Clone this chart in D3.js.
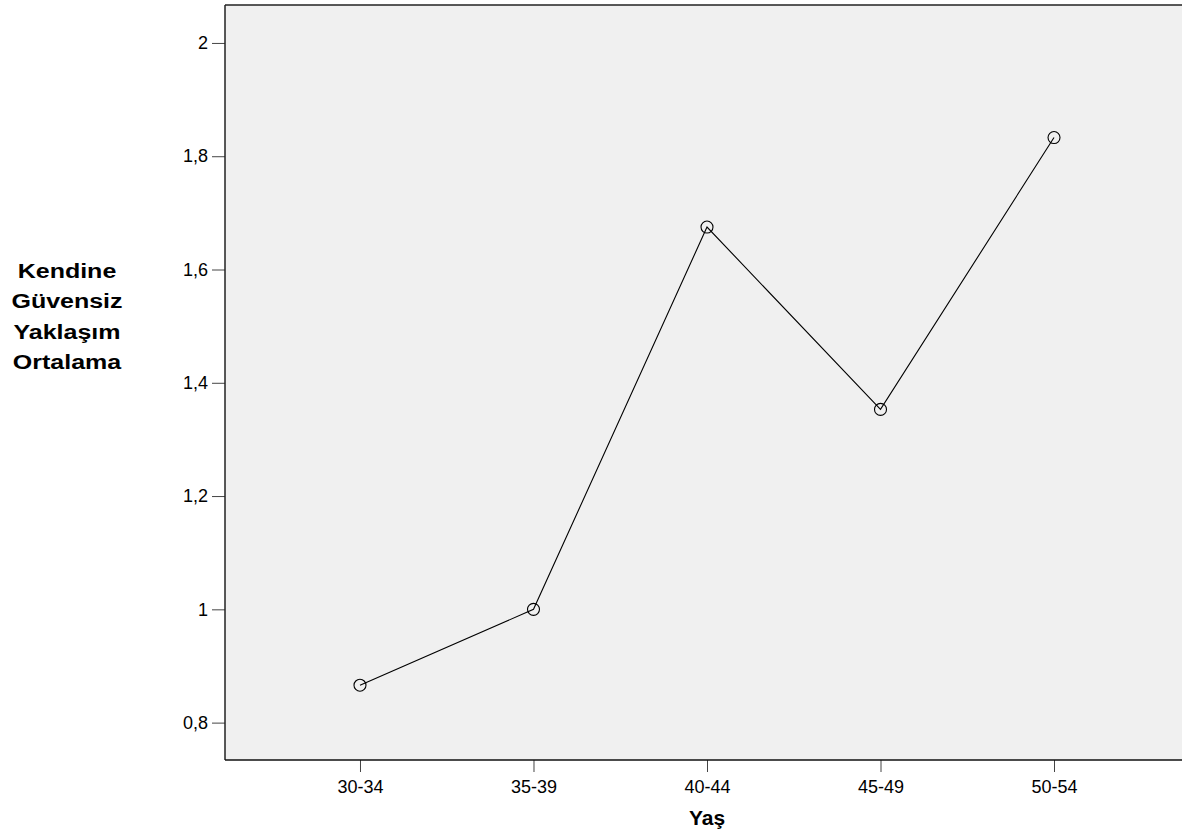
<!DOCTYPE html>
<html><head><meta charset="utf-8">
<script src="https://cdn.jsdelivr.net/npm/d3@7"></script>
<style>body{margin:0;background:#fff}svg{display:block}</style>
</head><body>
<svg id="c" width="1182" height="840"></svg>
<script>
const categories = ["30-34","35-39","40-44","45-49","50-54"];
const values = [0.866, 1.0, 1.675, 1.353, 1.833];
const yTicks = [0.8, 1.0, 1.2, 1.4, 1.6, 1.8, 2.0];
const yTitle = ["Kendine","Güvensiz","Yaklaşım","Ortalama"];
const xTitle = "Yaş";

const svg = d3.select("#c");
const FONT = "Arial, 'Liberation Sans', sans-serif";
const L = 225, T = 5, R = 1189, B = 760;
const x = d3.scalePoint().domain(categories).range([L, R]).padding(0.778);
const y = d3.scaleLinear().domain([0.734, 2.067]).range([B, T]);
const fmt = d => d3.format("~g")(d).replace(".", ",");

svg.append("rect").attr("x", L).attr("y", T).attr("width", R - L).attr("height", B - T).attr("fill", "#f0f0f0");

const yAxis = svg.append("g").attr("transform", `translate(${L},0)`)
  .call(d3.axisLeft(y).tickValues(yTicks).tickFormat(fmt).tickSize(13).tickPadding(4));
const xAxis = svg.append("g").attr("transform", `translate(0,${B})`)
  .call(d3.axisBottom(x).tickSize(12).tickPadding(8));
[yAxis, xAxis].forEach(g => {
  g.attr("font-size", null).attr("font-family", null);
  g.select(".domain").remove();
  g.selectAll(".tick line").attr("stroke", "#444").attr("stroke-width", 1);
  g.selectAll(".tick text").attr("fill", "#000").style("font-family", FONT).style("font-size", "18px");
});

// frame
svg.append("line").attr("x1", L).attr("x2", L).attr("y1", T).attr("y2", B).attr("stroke", "#222").attr("stroke-width", 1.5);
svg.append("line").attr("x1", L).attr("x2", 1182).attr("y1", T).attr("y2", T).attr("stroke", "#222").attr("stroke-width", 1.5);
svg.append("line").attr("x1", L).attr("x2", 1182).attr("y1", B).attr("y2", B).attr("stroke", "#111").attr("stroke-width", 1.5);

const data = categories.map((c, i) => ({c, v: values[i]}));
svg.append("path").datum(data)
  .attr("d", d3.line().x(d => x(d.c)).y(d => y(d.v)))
  .attr("fill", "none").attr("stroke", "#000").attr("stroke-width", 1.1);
svg.selectAll("circle.pt").data(data).join("circle").attr("class", "pt")
  .attr("cx", d => x(d.c)).attr("cy", d => y(d.v)).attr("r", 6)
  .attr("fill", "none").attr("stroke", "#000").attr("stroke-width", 1.1);

svg.append("text").attr("x", x("40-44")).attr("y", 825)
  .attr("text-anchor", "middle").style("font-family", FONT)
  .style("font-size", "21px").style("font-weight", "bold").text(xTitle);

const yt = svg.append("text").attr("text-anchor", "middle")
  .attr("transform", "translate(67,0) scale(1.25,1)")
  .style("font-family", FONT).style("font-size", "20px").style("font-weight", "bold");
yTitle.forEach((t, i) => yt.append("tspan").attr("x", 0).attr("y", 278 + i * 30.5).text(t));
</script>
</body></html>
